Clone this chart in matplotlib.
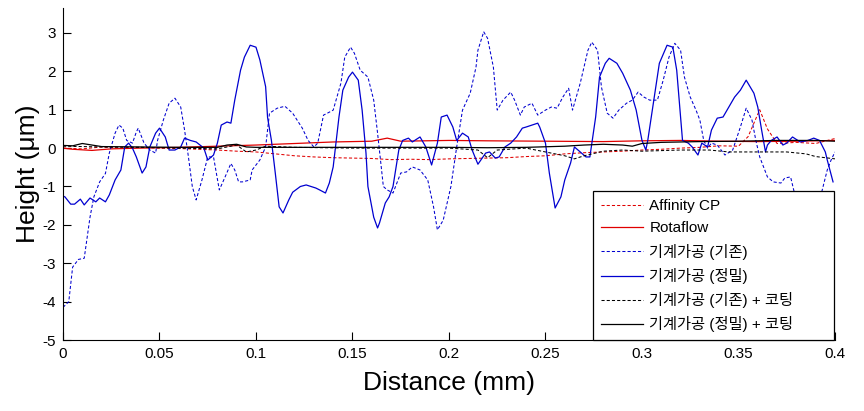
import numpy as np
import matplotlib
matplotlib.use('Agg')
from matplotlib import pyplot as plt

plt.rcParams['font.family'] = ['Liberation Sans', 'Noto Sans CJK KR', 'DejaVu Sans']
plt.rcParams['axes.unicode_minus'] = False

# 범례 이름
labels = ['Affinity CP', 'Rotaflow', '기계가공 (기존)', '기계가공 (정밀)',
          '기계가공 (기존) + 코팅', '기계가공 (정밀) + 코팅']

xticks = [0, 0.05, 0.1, 0.15, 0.2, 0.25, 0.3, 0.35, 0.4]
xtick_labels = ['0', '0.05', '0.1', '0.15', '0.2', '0.25', '0.3', '0.35', '0.4']
yticks = [-5, -4, -3, -2, -1, 0, 1, 2, 3]

# Affinity CP (red dashed)
aff_x = [0.0, 0.01, 0.02, 0.03, 0.04, 0.05, 0.06, 0.07, 0.08, 0.09, 0.1, 0.11, 0.12, 0.13,
         0.14, 0.15, 0.16, 0.17, 0.18, 0.19, 0.2, 0.21, 0.22, 0.23, 0.24, 0.25, 0.26, 0.27,
         0.28, 0.29, 0.3, 0.31, 0.32, 0.33, 0.34, 0.35, 0.355, 0.361, 0.365, 0.37, 0.38,
         0.39, 0.4]
aff_y = [0.0, -0.02, 0.03, 0.0, 0.02, 0.0, -0.01, -0.03, -0.05, -0.08, -0.1, -0.15, -0.2,
         -0.23, -0.25, -0.26, -0.27, -0.3, -0.29, -0.3, -0.28, -0.27, -0.26, -0.25, -0.22,
         -0.2, -0.15, -0.12, -0.1, -0.08, -0.05, -0.03, 0.0, 0.02, 0.06, 0.05, 0.3, 1.0,
         0.5, 0.12, 0.15, 0.12, 0.25]

# Rotaflow (red solid)
rot_x = [0.0, 0.005, 0.015, 0.025, 0.04, 0.06, 0.08, 0.1, 0.12, 0.14, 0.16, 0.168, 0.175,
         0.2, 0.22, 0.25, 0.28, 0.3, 0.32, 0.34, 0.36, 0.38, 0.4]
rot_y = [0.0, -0.03, -0.06, -0.02, 0.0, 0.02, 0.05, 0.08, 0.12, 0.16, 0.18, 0.26, 0.18,
         0.2, 0.19, 0.18, 0.17, 0.19, 0.2, 0.18, 0.17, 0.18, 0.2]

# 기계가공 (기존) (blue dashed)
mb_x = [0.0, 0.003, 0.005, 0.008, 0.011, 0.014, 0.016, 0.019, 0.022, 0.024, 0.027, 0.029,
        0.031, 0.033, 0.036, 0.038, 0.039, 0.042, 0.045, 0.048, 0.049, 0.052, 0.055, 0.058,
        0.061, 0.063, 0.065, 0.067, 0.069, 0.072, 0.075, 0.078, 0.081, 0.084, 0.087, 0.089,
        0.091, 0.093, 0.097, 0.098, 0.102, 0.105, 0.107, 0.111, 0.115, 0.119, 0.124, 0.127,
        0.13, 0.132, 0.135, 0.137, 0.14, 0.144, 0.146, 0.149, 0.151, 0.154, 0.158, 0.161,
        0.163, 0.166, 0.168, 0.171, 0.175, 0.178, 0.181, 0.185, 0.189, 0.192, 0.194, 0.197,
        0.201, 0.204, 0.207, 0.211, 0.214, 0.215, 0.218, 0.22, 0.223, 0.225, 0.228, 0.232,
        0.234, 0.237, 0.239, 0.243, 0.246, 0.25, 0.253, 0.256, 0.259, 0.262, 0.264, 0.268,
        0.272, 0.274, 0.277, 0.279, 0.282, 0.285, 0.288, 0.292, 0.295, 0.298, 0.301, 0.304,
        0.308, 0.311, 0.314, 0.317, 0.32, 0.322, 0.325, 0.328, 0.33, 0.332, 0.334, 0.336,
        0.339, 0.343, 0.347, 0.351, 0.354, 0.357, 0.359, 0.361, 0.365, 0.368, 0.372, 0.374,
        0.377, 0.379, 0.385, 0.39, 0.393, 0.396, 0.398, 0.4]
mb_y = [-4.15, -4.0, -3.1, -2.9, -2.87, -1.8, -1.27, -0.88, -0.66, -0.13, 0.39, 0.6, 0.52,
        0.2, 0.13, 0.42, 0.52, 0.13, -0.05, -0.13, 0.2, 0.73, 1.17, 1.3, 1.07, 0.47, -0.23,
        -1.0, -1.35, -0.83, -0.23, -0.23, -1.09, -0.75, -0.4, -0.57, -0.88, -0.88, -0.83,
        -0.57, -0.31, 0.03, 0.91, 1.04, 1.09, 0.91, 0.52, 0.2, 0.03, 0.13, 0.86, 0.91, 0.99,
        1.69, 2.37, 2.63, 2.47, 2.03, 1.85, 1.25, 0.39, -1.0, -1.09, -1.17, -0.65, -0.62,
        -0.49, -0.57, -0.83, -1.53, -2.13, -1.88, -1.0, 0.03, 0.99, 1.43, 2.11, 2.55, 3.03,
        2.86, 2.11, 0.99, 1.25, 1.46, 1.25, 0.86, 1.07, 1.17, 0.86, 0.99, 1.07, 1.04, 1.33,
        1.56, 0.99, 1.69, 2.55, 2.76, 2.55, 1.59, 0.91, 0.78, 0.99, 1.17, 1.25, 1.46, 1.33,
        1.25, 1.25, 1.77, 2.37, 2.73, 2.55, 1.85, 1.33, 0.99, 0.73, 0.2, 0.0, 0.13, 0.08,
        -0.18, -0.05, 0.55, 1.04, 0.73, 0.2, -0.23, -0.75, -0.88, -0.91, -0.78, -0.75,
        -1.17, -1.5, -1.5, -1.17, -0.57, -0.31, -0.1]

# 기계가공 (정밀) (blue solid)
mp_x = [0.0, 0.001, 0.004, 0.006, 0.009, 0.011, 0.014, 0.017, 0.019, 0.022, 0.024, 0.027,
        0.03, 0.032, 0.034, 0.036, 0.038, 0.041, 0.043, 0.045, 0.048, 0.05, 0.053, 0.055,
        0.058, 0.061, 0.063, 0.066, 0.069, 0.073, 0.075, 0.078, 0.08, 0.082, 0.085, 0.087,
        0.089, 0.092, 0.094, 0.097, 0.1, 0.102, 0.105, 0.106, 0.108, 0.11, 0.112, 0.114,
        0.117, 0.119, 0.123, 0.126, 0.131, 0.133, 0.136, 0.138, 0.14, 0.143, 0.145, 0.148,
        0.15, 0.153, 0.155, 0.157, 0.158, 0.161, 0.163, 0.164, 0.167, 0.169, 0.171, 0.174,
        0.176, 0.179, 0.181, 0.185, 0.188, 0.191, 0.194, 0.196, 0.199, 0.202, 0.204, 0.207,
        0.21, 0.212, 0.215, 0.219, 0.221, 0.224, 0.226, 0.229, 0.232, 0.235, 0.238, 0.24,
        0.243, 0.246, 0.247, 0.25, 0.252, 0.255, 0.258, 0.26, 0.263, 0.265, 0.268, 0.271,
        0.273, 0.276, 0.278, 0.281, 0.283, 0.287, 0.29, 0.294, 0.297, 0.3, 0.302, 0.303,
        0.306, 0.309, 0.313, 0.316, 0.318, 0.321, 0.324, 0.326, 0.329, 0.331, 0.334, 0.336,
        0.339, 0.342, 0.345, 0.348, 0.351, 0.354, 0.358, 0.36, 0.362, 0.364, 0.365, 0.367,
        0.37, 0.373, 0.375, 0.378, 0.382, 0.386, 0.389, 0.392, 0.395, 0.396, 0.399]
mp_y = [-1.25, -1.27, -1.46, -1.46, -1.33, -1.48, -1.3, -1.4, -1.3, -1.4, -1.22, -0.83,
        -0.57, 0.03, 0.13, 0.0, -0.23, -0.65, -0.49, 0.03, 0.39, 0.52, 0.29, -0.05, -0.05,
        0.03, 0.26, 0.2, 0.16, 0.0, -0.31, -0.18, 0.13, 0.6, 0.68, 0.65, 1.25, 2.03, 2.37,
        2.68, 2.63, 2.3, 1.6, 0.8, 0.2, -0.65, -1.53, -1.69, -1.35, -1.15, -1.0, -0.96,
        -1.04, -1.09, -1.17, -0.91, -0.49, 0.81, 1.51, 1.85, 1.98, 1.77, 0.99, -0.13, -1.0,
        -1.8, -2.08, -1.95, -1.43, -1.27, -1.0, -0.05, 0.2, 0.26, 0.16, 0.29, 0.03, -0.44,
        0.13, 0.81, 0.86, 0.55, 0.2, 0.39, 0.29, -0.05, -0.42, -0.13, -0.1, -0.26, -0.23,
        0.03, 0.13, 0.29, 0.52, 0.55, 0.6, 0.65, 0.55, 0.13, -0.65, -1.56, -1.27, -0.83,
        -0.39, 0.03, -0.1, -0.23, -0.23, 0.81, 1.85, 2.21, 2.34, 2.21, 1.95, 1.51, 0.99,
        0.2, -0.05, 0.2, 1.2, 2.21, 2.68, 2.63, 2.03, 0.2, 0.13, 0.03, -0.18, 0.13, 0.03,
        0.47, 0.78, 0.81, 1.07, 1.33, 1.51, 1.77, 1.43, 1.07, 0.47, -0.1, 0.08, 0.2, 0.29,
        0.08, 0.13, 0.29, 0.16, 0.2, 0.26, 0.2, -0.1, -0.31, -0.88]

# 기계가공 (기존) + 코팅 (black dashed)
cb_x = [0.0, 0.02, 0.04, 0.06, 0.08, 0.09, 0.095, 0.1, 0.105, 0.12, 0.15, 0.2, 0.215,
        0.22, 0.225, 0.24, 0.25, 0.26, 0.265, 0.27, 0.28, 0.29, 0.3, 0.32, 0.335, 0.345,
        0.36, 0.375, 0.385, 0.39, 0.4]
cb_y = [0.05, 0.03, 0.02, 0.0, -0.02, 0.08, -0.1, -0.05, 0.05, 0.02, 0.0, 0.0, -0.05,
        -0.25, -0.05, 0.0, -0.1, -0.2, -0.28, -0.2, -0.08, -0.05, -0.08, -0.05, -0.05,
        -0.1, -0.1, -0.1, -0.15, -0.22, -0.28]

# 기계가공 (정밀) + 코팅 (black solid)
cp_x = [0.0, 0.005, 0.01, 0.015, 0.02, 0.04, 0.06, 0.08, 0.085, 0.09, 0.095, 0.1, 0.15,
        0.2, 0.22, 0.24, 0.26, 0.27, 0.28, 0.29, 0.295, 0.3, 0.31, 0.33, 0.35, 0.37, 0.39,
        0.4]
cp_y = [0.07, 0.06, 0.12, 0.08, 0.04, 0.03, 0.02, 0.02, 0.08, 0.1, 0.03, 0.02, 0.02,
        0.02, 0.01, 0.02, 0.05, 0.08, 0.1, 0.08, 0.05, 0.12, 0.15, 0.17, 0.18, 0.2, 0.2,
        0.18]

dash = (0, (3, 2))
red = '#e00000'
blue = '#0000d0'

fig = plt.figure(figsize=(8.64, 4.11), dpi=100)
ax = fig.add_axes([0.0729, 0.1727, 0.8935, 0.8078])

ax.plot(aff_x, aff_y, color=red, linestyle=dash, linewidth=0.75, label=labels[0])
ax.plot(rot_x, rot_y, color=red, linestyle='-', linewidth=0.9, label=labels[1])
ax.plot(mb_x, mb_y, color=blue, linestyle=dash, linewidth=0.75, label=labels[2])
ax.plot(mp_x, mp_y, color=blue, linestyle='-', linewidth=0.9, label=labels[3])
ax.plot(cb_x, cb_y, color='black', linestyle=dash, linewidth=0.75, label=labels[4])
ax.plot(cp_x, cp_y, color='black', linestyle='-', linewidth=0.9, label=labels[5])

ax.set_xlim(0, 0.4)
ax.set_ylim(-5, 3.65)
ax.set_xticks(xticks)
ax.set_xticklabels(xtick_labels)
ax.set_yticks(yticks)

# MATLAB 스타일: box off, 안쪽 눈금
ax.spines['top'].set_visible(False)
ax.spines['right'].set_visible(False)
ax.tick_params(direction='in', length=6, width=0.8, labelsize=11, pad=5)

ax.set_xlabel('Distance (mm)', fontsize=19, labelpad=7)
ax.set_ylabel('Height (\u03bcm)', fontsize=19, labelpad=2)

# 범례: 오른쪽 아래, 넓은 상자
leg = ax.legend(loc='lower left', bbox_to_anchor=(0.6865, 0.0, 0.312, 0.44),
                mode='expand', fontsize=11, frameon=True, fancybox=False,
                edgecolor='black', framealpha=1, borderaxespad=0, handlelength=2.8,
                handletextpad=0.4, labelspacing=0.54, borderpad=0.5)
leg.get_frame().set_linewidth(0.9)

fig.savefig('out.png', dpi=100)
